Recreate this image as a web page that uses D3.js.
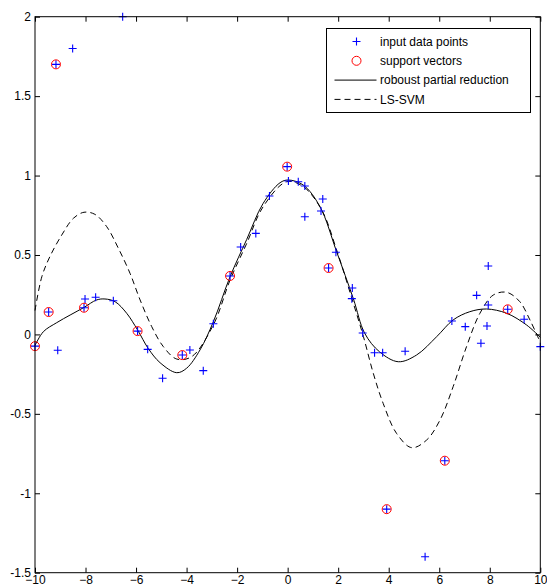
<!DOCTYPE html>
<html>
<head>
<meta charset="utf-8">
<script src="https://cdn.jsdelivr.net/npm/d3@7"></script>
<style>
  html, body { margin: 0; padding: 0; background: #fff; }
</style>
</head>
<body>
<div id="chart"></div>
<script>
// values
const inputX = [-10, -9.46, -9.17, -9.10, -8.51, -8.02, -8.06, -7.60, -6.90, -6.53, -5.94, -5.54, -4.95, -4.17, -3.87,
  -3.34, -2.94, -2.28, -1.86, -1.26, -0.72, -0.02, 0.03, 0.42, 0.68, 0.68, 1.39, 1.32, 1.62, 1.91, 2.56, 2.54, 2.97,
  3.44, 3.76, 4.65, 3.92, 5.44, 6.22, 6.50, 7.03, 7.48, 7.65, 7.94, 7.94, 7.89, 8.71, 9.36, 10]
const inputY = [-0.074, 0.141, 1.70, -0.10, 1.80, 0.223, 0.168, 0.234, 0.212, 2.0, 0.021, -0.094, -0.276, -0.13, -0.098,
  -0.228, 0.067, 0.368, 0.55, 0.636, 0.871, 1.056, 0.966, 0.961, 0.934, 0.741, 0.852, 0.777, 0.418, 0.517, 0.292, 0.225, 0.009,
  -0.115, -0.115, -0.106, -1.10, -1.40, -0.795, 0.084, 0.049, 0.246, -0.056, 0.431, 0.185, 0.053, 0.158, 0.095, -0.077]

const svX = [-10, -9.46, -9.17, -8.06, -5.94, -4.17, -2.28, -0.02, 1.62, 3.92, 6.22, 8.71]
const svY = [-0.074, 0.141, 1.70, 0.168, 0.021, -0.13, 0.368, 1.056, 0.418, -1.10, -0.795, 0.158]

const robustX = [-10, -9.67, -9.14, -8.61, -8.06, -7.56, -7.23, -6.83, -6.37, -5.94, -5.52, -5.05, -4.39, -4.0, -3.47,
  -2.94, -2.28, -1.62, -0.97, -0.30, 0.03, 0.62, 1.28, 1.94, 2.60, 3.05, 3.64, 4.38, 5.10, 5.90, 6.55, 7.21, 7.87, 8.67, 9.46, 10]
const robustY = [-0.07, 0.017, 0.074, 0.122, 0.17, 0.217, 0.223, 0.206, 0.133, 0.028, -0.088, -0.178, -0.241, -0.213, -0.098,
  0.08, 0.363, 0.598, 0.825, 0.955, 0.972, 0.94, 0.804, 0.52, 0.225, 0.007, -0.11, -0.172, -0.13, -0.014, 0.091, 0.143, 0.16, 0.133, 0.059, -0.018]

const lssvmX = [-10, -9.73, -9.41, -8.94, -8.48, -8.06, -7.63, -7.16, -6.70, -6.24, -5.84, -5.38, -4.92, -4.39, -3.80,
  -2.94, -2.28, -1.62, -0.97, -0.04, 0.62, 1.35, 1.94, 2.60, 3.0, 3.39, 3.78, 4.31, 4.91, 5.50, 6.03, 6.55, 7.08, 7.61,
  8.14, 8.67, 9.19, 9.59, 10]
const lssvmY = [0.15, 0.363, 0.49, 0.626, 0.731, 0.769, 0.756, 0.678, 0.542, 0.385, 0.217, 0.049, -0.077, -0.155, -0.14,
  0.06, 0.342, 0.573, 0.804, 0.961, 0.93, 0.783, 0.531, 0.196, -0.014, -0.245, -0.434, -0.623, -0.713, -0.665, -0.539, -0.329, -0.077, 0.133,
  0.248, 0.265, 0.206, 0.091, -0.05]

const xTicks = [-10, -8, -6, -4, -2, 0, 2, 4, 6, 8, 10]
const yTicks = [-1.5, -1, -0.5, 0, 0.5, 1, 1.5, 2]
const legendLabels = ['input data points', 'support vectors', 'roboust partial reduction', 'LS-SVM']

const FONT = 'Arial, "Liberation Sans", sans-serif'
const width = 547
const height = 588
const margin = { top: 16.7, right: 6.7, bottom: 15.3, left: 35 }

const x = d3.scaleLinear().domain([-10, 10]).range([margin.left, width - margin.right])
const y = d3.scaleLinear().domain([-1.5, 2]).range([height - margin.bottom, margin.top])

const svg = d3
  .select('#chart')
  .append('svg')
  .attr('width', width)
  .attr('height', height)
  .style('font-family', FONT)

const line = (xs, ys) =>
  d3
    .line()
    .x(i => x(xs[i]))
    .y(i => y(ys[i]))
    .curve(d3.curveCatmullRom.alpha(0.5))(d3.range(xs.length))

// axes, ticks inward on all sides
const xAxis = g =>
  g
    .attr('transform', `translate(0,${height - margin.bottom})`)
    .call(d3.axisBottom(x).tickValues(xTicks).tickSizeInner(-5).tickSizeOuter(0).tickPadding(3).tickFormat(d3.format('d')))
    .call(g => g.select('.domain').remove())
const xAxisTop = g =>
  g
    .attr('transform', `translate(0,${margin.top})`)
    .call(d3.axisTop(x).tickValues(xTicks).tickSizeInner(-5).tickSizeOuter(0).tickFormat(''))
    .call(g => g.select('.domain').remove())
const yAxis = g =>
  g
    .attr('transform', `translate(${margin.left},0)`)
    .call(d3.axisLeft(y).tickValues(yTicks).tickSizeInner(-5).tickSizeOuter(0).tickPadding(4).tickFormat(d => d))
    .call(g => g.select('.domain').remove())
const yAxisRight = g =>
  g
    .attr('transform', `translate(${width - margin.right},0)`)
    .call(d3.axisRight(y).tickValues(yTicks).tickSizeInner(-5).tickSizeOuter(0).tickFormat(''))
    .call(g => g.select('.domain').remove())

;[xAxis, xAxisTop, yAxis, yAxisRight].forEach(a => {
  svg
    .append('g')
    .call(a)
    .call(g => g.selectAll('text').style('font', `12px ${FONT}`).attr('fill', '#000'))
    .call(g => g.selectAll('line').attr('stroke', '#000'))
})

// curves
svg
  .append('path')
  .attr('d', line(lssvmX, lssvmY))
  .attr('fill', 'none')
  .attr('stroke', '#000')
  .attr('stroke-width', 1)
  .style('stroke-dasharray', '6, 4')

svg
  .append('path')
  .attr('d', line(robustX, robustY))
  .attr('fill', 'none')
  .attr('stroke', '#000')
  .attr('stroke-width', 1)

// input points
const plus = 'M-4,0H4M0,-4V4'
svg
  .append('g')
  .selectAll('path')
  .data(d3.range(inputX.length))
  .join('path')
  .attr('transform', i => `translate(${x(inputX[i])},${y(inputY[i])})`)
  .attr('d', plus)
  .attr('stroke', '#0000ff')
  .attr('stroke-width', 1.1)
  .attr('fill', 'none')

// support vectors
svg
  .append('g')
  .selectAll('circle')
  .data(d3.range(svX.length))
  .join('circle')
  .attr('cx', i => x(svX[i]))
  .attr('cy', i => y(svY[i]))
  .attr('r', 4.5)
  .attr('fill', 'none')
  .attr('stroke', '#ff0000')
  .attr('stroke-width', 1)

// frame
svg
  .append('rect')
  .attr('x', margin.left)
  .attr('y', margin.top)
  .attr('width', width - margin.left - margin.right)
  .attr('height', height - margin.top - margin.bottom)
  .attr('fill', 'none')
  .attr('stroke', '#000')
  .attr('stroke-width', 1)

// legend
const legend = svg.append('g').attr('transform', 'translate(326.5,28.5)')
legend
  .append('rect')
  .attr('width', 204)
  .attr('height', 84)
  .attr('fill', '#fff')
  .attr('stroke', '#000')

const rows = legend
  .selectAll('.legend')
  .data(legendLabels)
  .join('g')
  .attr('class', 'legend')
  .attr('transform', (d, i) => `translate(0, ${13 + i * 19.3})`)

rows
  .append('text')
  .attr('x', 53.5)
  .attr('dy', '.35em')
  .style('font', `12px ${FONT}`)
  .text(d => d)

rows.filter((d, i) => i === 0).append('path').attr('transform', 'translate(30,0)').attr('d', plus).attr('stroke', '#0000ff').attr('stroke-width', 1.1)
rows.filter((d, i) => i === 1).append('circle').attr('cx', 30).attr('r', 4.5).attr('fill', 'none').attr('stroke', '#ff0000')
rows.filter((d, i) => i === 2).append('line').attr('x1', 8).attr('x2', 50).attr('stroke', '#000')
rows
  .filter((d, i) => i === 3)
  .append('line')
  .attr('x1', 8)
  .attr('x2', 50)
  .attr('stroke', '#000')
  .style('stroke-dasharray', '6, 4')
</script>
</body>
</html>
